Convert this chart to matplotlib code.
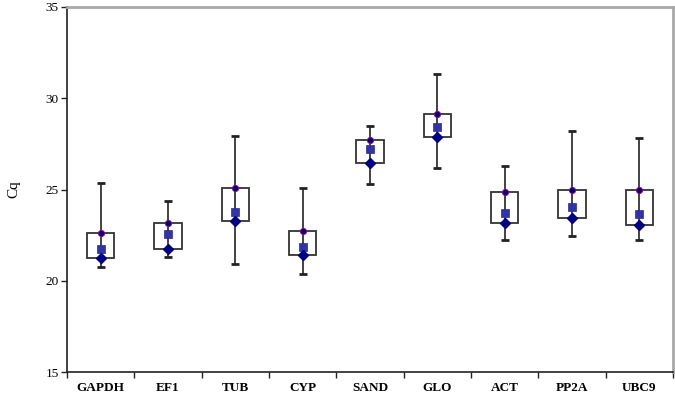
import matplotlib.pyplot as plt

# Cq values per reference gene
genes = ["GAPDH", "EF1", "TUB", "CYP", "SAND", "GLO", "ACT", "PP2A", "UBC9"]
cq_max = [25.35, 24.35, 27.95, 25.1, 28.5, 31.35, 26.3, 28.2, 27.8]
cq_q3 = [22.6, 23.15, 25.1, 22.75, 27.7, 29.15, 24.85, 24.95, 24.95]
cq_median = [21.75, 22.55, 23.75, 21.85, 27.2, 28.4, 23.7, 24.05, 23.65]
cq_q1 = [21.25, 21.75, 23.25, 21.4, 26.45, 27.85, 23.15, 23.45, 23.05]
cq_min = [20.75, 21.3, 20.9, 20.35, 25.3, 26.2, 22.25, 22.45, 22.25]

pos = list(range(1, len(genes) + 1))
heights = [a - b for a, b in zip(cq_q3, cq_q1)]

plt.rcParams["font.family"] = ["Liberation Serif", "DejaVu Serif"]

fig = plt.figure(figsize=(6.75, 3.95), dpi=100)
ax = fig.add_axes([0.0993, 0.0582, 0.8977, 0.9241])

# boxes from q1 to q3
ax.bar(pos, heights, bottom=cq_q1, width=0.41, fill=False,
       edgecolor="#333333", linewidth=1.3, zorder=2)

# whiskers from min to max
mid = [(a + b) / 2 for a, b in zip(cq_max, cq_min)]
ax.errorbar(pos, mid,
            yerr=[[m - lo for m, lo in zip(mid, cq_min)],
                  [hi - m for m, hi in zip(mid, cq_max)]],
            fmt="none", ecolor="#222222", elinewidth=1.2,
            capsize=3, capthick=2, zorder=3)

ax.plot(pos, cq_q3, "o", ms=4.5, mfc="#000066", mec="#990099", mew=0.6,
        ls="none", zorder=4)
ax.plot(pos, cq_median, "s", ms=6, mfc="#3333A8", mec="#2A2A90", mew=0.5,
        ls="none", zorder=4)
ax.plot(pos, cq_q1, "D", ms=4.6, mfc="#000080", mec="#000080",
        ls="none", zorder=4)

ax.set_xlim(0.5, len(genes) + 0.5)
ax.set_ylim(15, 35)
ax.set_yticks([15, 20, 25, 30, 35])
ax.set_xticks([p - 0.5 for p in pos] + [len(genes) + 0.5])
ax.set_xticklabels([])
ax.set_xticks(pos, minor=True)
ax.set_xticklabels(genes, minor=True, fontweight="bold", fontsize=9.5)
ax.tick_params(axis="x", which="minor", length=0, pad=7)
ax.tick_params(axis="x", which="major", length=4, width=1, color="#222222")
ax.tick_params(axis="y", length=4, width=1, labelsize=9.5, color="#222222",
               pad=2)
ax.set_ylabel("Cq", fontsize=11, labelpad=18)

for s in ["left", "bottom"]:
    ax.spines[s].set_color("#222222")
    ax.spines[s].set_linewidth(1.2)
for s in ["top", "right"]:
    ax.spines[s].set_color("#A8A8A8")
    ax.spines[s].set_linewidth(2)

fig.savefig("out.png", dpi=100)
